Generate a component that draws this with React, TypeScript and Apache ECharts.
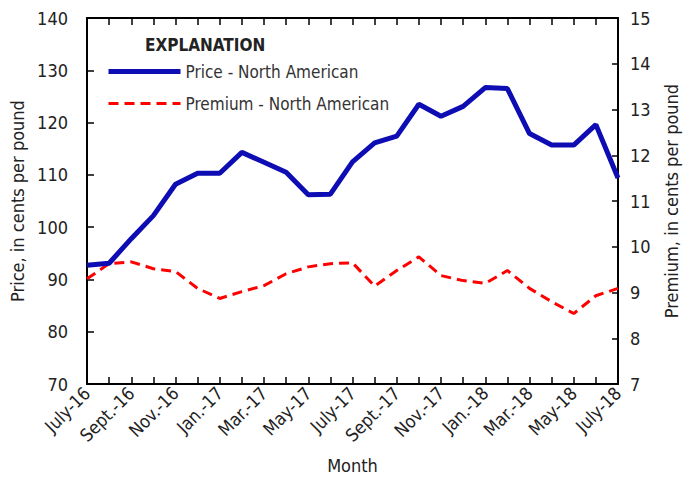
import React, { useEffect, useRef } from "react";
import * as echarts from "echarts";

const months = [
  "July-16", "Aug.-16", "Sept.-16", "Oct.-16", "Nov.-16", "Dec.-16",
  "Jan.-17", "Feb.-17", "Mar.-17", "Apr.-17", "May-17", "June-17",
  "July-17", "Aug.-17", "Sept.-17", "Oct.-17", "Nov.-17", "Dec.-17",
  "Jan.-18", "Feb.-18", "Mar.-18", "Apr.-18", "May-18", "June-18", "July-18",
];

const priceNA = [
  92.7, 93.1, 97.8, 102.2, 108.2, 110.3, 110.3, 114.3, 112.4, 110.5, 106.2, 106.3,
  112.5, 116.1, 117.4, 123.5, 121.2, 123.1, 126.7, 126.5, 117.9, 115.7, 115.7, 119.6, 109.4,
];

const premiumNA = [
  9.3, 9.63, 9.67, 9.52, 9.46, 9.09, 8.87, 9.02, 9.15, 9.41, 9.56, 9.63,
  9.65, 9.14, 9.48, 9.78, 9.37, 9.26, 9.2, 9.48, 9.09, 8.8, 8.54, 8.93, 9.09,
];

const seriesNames = ["Price - North American", "Premium - North American"];

const FONT = "'Liberation Sans Narrow', 'DejaVu Sans Condensed', 'Arial Narrow', sans-serif";

export default function App() {
  const ref = useRef<HTMLDivElement>(null);
  useEffect(() => {
    if (!ref.current) return;
    const chart = echarts.init(ref.current, undefined, { renderer: "svg" });
    const labelStyle = { fontFamily: FONT, fontSize: 18, color: "#222" };
    const axisLine = { show: true, lineStyle: { color: "#000", width: 2 } };
    const tick = { show: true, inside: true, interval: 0, length: 7, lineStyle: { color: "#000", width: 1.5 } };
    chart.setOption({
      animation: false,
      backgroundColor: "#fff",
      textStyle: { fontFamily: FONT },
      title: {
        text: "EXPLANATION",
        left: 145,
        top: 36,
        padding: 0,
        textStyle: { fontFamily: FONT, fontSize: 17, fontWeight: "bold", color: "#222" },
      },
      legend: {
        orient: "vertical",
        left: 106,
        top: 63,
        padding: 0,
        itemWidth: 72,
        itemHeight: 14,
        itemGap: 15,
        itemStyle: { opacity: 0 },
        textStyle: { fontFamily: FONT, fontSize: 17, color: "#333", lineHeight: 14 },
        data: [
          { name: seriesNames[0], lineStyle: { width: 5 } },
          { name: seriesNames[1], lineStyle: { width: 3 } },
        ],
      },
      grid: { left: 87, right: 76, top: 18, bottom: 93, containLabel: false },
      xAxis: [
        {
          type: "category",
          data: months,
          boundaryGap: false,
          name: "Month",
          nameLocation: "middle",
          nameGap: 72,
          nameTextStyle: { ...labelStyle },
          axisLine,
          axisTick: tick,
          axisLabel: { ...labelStyle, interval: 1, rotate: 45, margin: 6 },
          splitLine: { show: false },
        },
        {
          type: "category",
          data: months,
          boundaryGap: false,
          position: "top",
          axisLine,
          axisTick: tick,
          axisLabel: { show: false },
          splitLine: { show: false },
        },
      ],
      yAxis: [
        {
          type: "value",
          min: 70,
          max: 140,
          interval: 10,
          position: "left",
          name: "Price, in cents per pound",
          nameLocation: "middle",
          nameRotate: 90,
          nameGap: 55,
          nameTextStyle: { ...labelStyle },
          axisLine,
          axisTick: tick,
          axisLabel: { ...labelStyle, margin: 19 },
          splitLine: { show: false },
        },
        {
          type: "value",
          min: 7,
          max: 15,
          interval: 1,
          position: "right",
          name: "Premium, in cents per pound",
          nameLocation: "middle",
          nameRotate: 90,
          nameGap: 44,
          nameTextStyle: { ...labelStyle },
          axisLine,
          axisTick: { ...tick, length: 6 },
          axisLabel: { ...labelStyle, margin: 12 },
          splitLine: { show: false },
        },
      ],
      series: [
        {
          name: seriesNames[0],
          type: "line",
          data: priceNA,
          xAxisIndex: 0,
          yAxisIndex: 0,
          symbol: "none",
          lineStyle: { color: "#0d0db3", width: 5 },
          itemStyle: { color: "#0d0db3" },
          z: 3,
        },
        {
          name: seriesNames[1],
          type: "line",
          data: premiumNA,
          xAxisIndex: 0,
          yAxisIndex: 1,
          symbol: "none",
          lineStyle: { color: "#ff0000", width: 3, type: [10, 6] },
          itemStyle: { color: "#ff0000" },
          z: 2,
        },
      ],
    });
    return () => chart.dispose();
  }, []);
  return (
    <div
      ref={ref}
      style={{ position: "fixed", left: 0, top: 0, width: 694, height: 479, background: "#fff" }}
    />
  );
}
